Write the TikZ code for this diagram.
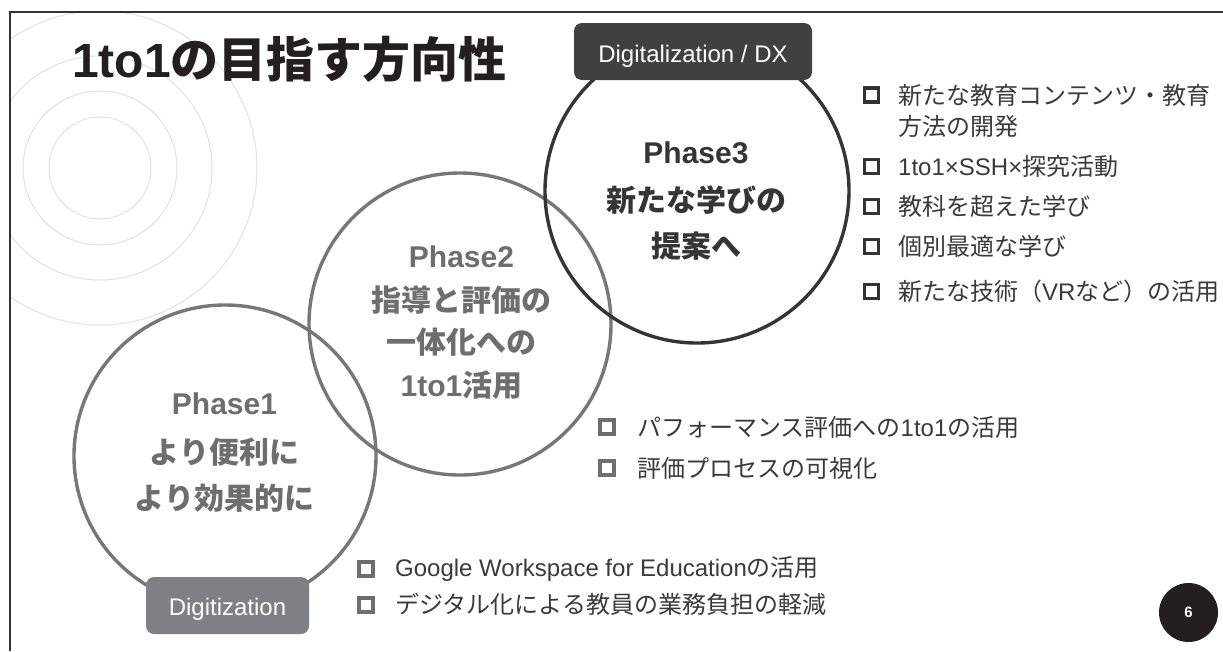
\documentclass[tikz,border=0pt]{standalone}
\usepackage{fontspec}
\setmainfont{Liberation Sans}
\newfontfamily\jpf{Noto Sans CJK JP}
\newcommand\J[1]{{\jpf #1}}
\definecolor{framec}{HTML}{333333}
\definecolor{ringc}{HTML}{E2E2E2}
\definecolor{ponec}{HTML}{777777}
\definecolor{ponet}{HTML}{6E6E6E}
\definecolor{pthreec}{HTML}{353535}
\definecolor{dxc}{HTML}{404040}
\definecolor{digc}{HTML}{7F8083}
\definecolor{titlec}{HTML}{231F20}
\definecolor{bodyc}{HTML}{3A3A3A}
\definecolor{bulgray}{HTML}{6E6E6E}
\begin{document}
\begin{tikzpicture}[x=1pt,y=-1pt,
  framel/.style={draw=framec,line width=1.5pt},
  ring/.style={draw=ringc,line width=1pt},
  phasec/.style={circle,minimum size=302pt,inner sep=0pt,line width=3.4pt},
  tagbox/.style={rounded corners=8pt,text=white,inner sep=0pt,font=\fontsize{24}{28}\selectfont},
  ptext/.style={anchor=base,inner sep=0pt,font=\bfseries\fontsize{30}{36}\selectfont},
  bsq/.style={draw,rectangle,minimum size=14pt,inner sep=0pt,line width=3.6pt},
  btext/.style={anchor=base west,inner sep=0pt,text=bodyc,font=\fontsize{24}{28}\selectfont}]
\useasboundingbox (0,0) rectangle (1223,651);
\fill[white] (0,0) rectangle (1223,651);
% background rings
\begin{scope}
\clip (10,12) rectangle (1223,651);
\foreach \r in {51,77,112,157} \draw[ring] (100,168) circle[radius=\r];
\end{scope}
% frame
\draw[framel] (10,651) -- (10,12) -- (1223,12);
% phase circles
\node[phasec,draw=ponec] (c1) at (225,456) {};
\node[phasec,draw=ponec] (c2) at (460,324) {};
\node[phasec,draw=pthreec,minimum size=304pt] (c3) at (697,191) {};
% tags
\node[tagbox,fill=dxc,minimum width=238pt,minimum height=57pt,text height=21pt,text depth=0pt] (dx) at (693,51.5) {Digitalization / DX};
\node[tagbox,fill=digc,minimum width=163pt,minimum height=57pt,text height=19pt,text depth=0pt] (dg) at (227.5,605.5) {Digitization};
% title
\node[anchor=base west,inner sep=0pt,text=titlec,font=\bfseries\fontsize{48}{56}\selectfont] (title) at (72,77) {1to1\J{の目指す方向性}};
% phase texts
\node[ptext,text=ponet] (p1a) at (224.5,414) {Phase1};
\node[ptext,text=ponet] (p1b) at (224.5,463) {\J{より便利に}};
\node[ptext,text=ponet] (p1c) at (224.5,509) {\J{より効果的に}};
\node[ptext,text=ponet] (p2a) at (461.5,267) {Phase2};
\node[ptext,text=ponet] (p2b) at (461.5,311) {\J{指導と評価の}};
\node[ptext,text=ponet] (p2c) at (461.5,353) {\J{一体化への}};
\node[ptext,text=ponet] (p2d) at (461.5,396) {1to1\J{活用}};
\node[ptext,text=pthreec] (p3a) at (696,163) {Phase3};
\node[ptext,text=pthreec] (p3b) at (696,211) {\J{新たな学びの}};
\node[ptext,text=pthreec] (p3c) at (696,257) {\J{提案へ}};
% phase 3 bullets
\node[bsq,draw=framec] (rb1) at (871.5,95) {};
\node[bsq,draw=framec] (rb2) at (871.5,166.5) {};
\node[bsq,draw=framec] (rb3) at (871.5,206.5) {};
\node[bsq,draw=framec] (rb4) at (871.5,246.5) {};
\node[bsq,draw=framec] (rb5) at (871.5,291.5) {};
\node[btext] (rt1a) at (898,104) {\J{新たな教育コンテンツ・教育}};
\node[btext] (rt1b) at (898,135) {\J{方法の開発}};
\node[btext] (rt2) at (898,175.5) {1to1×SSH×\J{探究活動}};
\node[btext] (rt3) at (898,215.5) {\J{教科を超えた学び}};
\node[btext] (rt4) at (898,255.5) {\J{個別最適な学び}};
\node[btext] (rt5) at (898,300.5) {\J{新たな技術（}VR\J{など）の活用}};
% phase 2 bullets
\node[bsq,draw=bulgray] (mb1) at (607,427) {};
\node[bsq,draw=bulgray] (mb2) at (607,468) {};
\node[btext] (mt1) at (637,436) {\J{パフォーマンス評価への}1to1\J{の活用}};
\node[btext] (mt2) at (637,477) {\J{評価プロセスの可視化}};
% phase 1 bullets
\node[bsq,draw=bulgray] (bb1) at (366,569) {};
\node[bsq,draw=bulgray] (bb2) at (366,605) {};
\node[btext] (bt1) at (395,576) {Google Workspace for Education\J{の活用}};
\node[btext] (bt2) at (395,613) {\J{デジタル化による教員の業務負担の軽減}};
% page number
\node[circle,fill=titlec,minimum size=59pt,inner sep=0pt,text=white,font=\bfseries\fontsize{15}{18}\selectfont] (pg) at (1188.5,612.5) {6};
\end{tikzpicture}
\end{document}
